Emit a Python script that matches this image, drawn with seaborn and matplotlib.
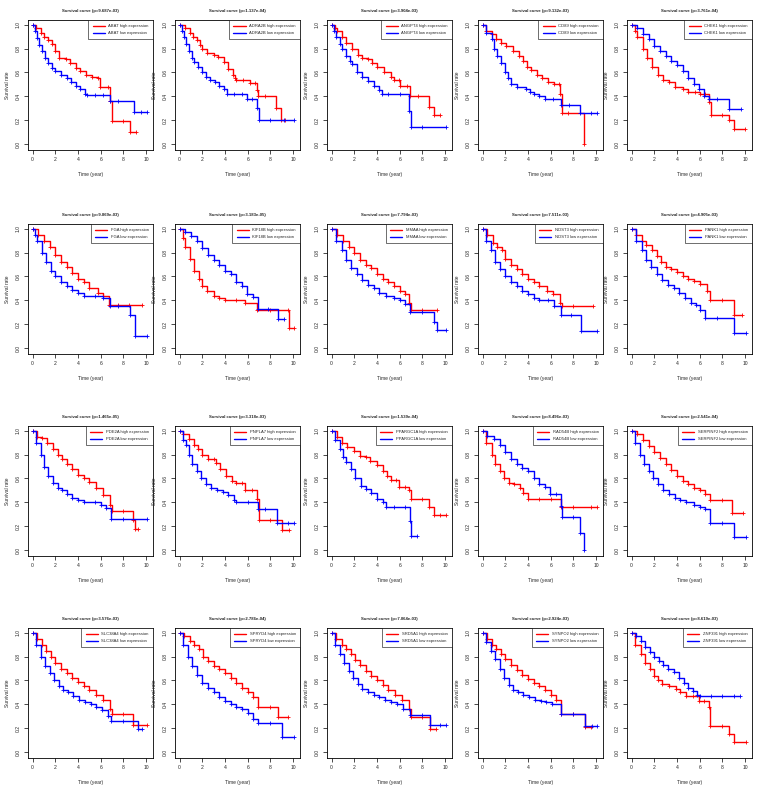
import matplotlib
matplotlib.use("Agg")
import matplotlib.pyplot as plt
from matplotlib.lines import Line2D
import seaborn as sns

# ── Data ((time in years, survival rate)) ───────────────────────────────────
genes = ["ABAT", "ADRA2B", "ANGPT4", "CD89", "CHEK1",
         "FGA", "KIF18B", "MMAA", "NDST3", "PANK1",
         "PDE2A", "PNPLA7", "PPARGC1A", "RAD54B", "SERPINF2",
         "SLC38A4", "SPRYD4", "SRD5A1", "SYNPO2", "ZNF391"]
pvalues = ["9.687e-03", "1.137e-04", "3.904e-03", "9.132e-03", "3.761e-04",
           "9.869e-03", "3.183e-05", "7.794e-03", "7.511e-03", "4.905e-03",
           "1.465e-05", "3.318e-03", "1.539e-04", "8.496e-03", "2.541e-04",
           "3.576e-03", "2.786e-04", "7.064e-03", "2.924e-03", "8.619e-03"]

abat_high = [(0, 1.0), (0.3, 0.97), (0.7, 0.93), (1.0, 0.90), (1.4, 0.87), (1.7, 0.84), (2.0, 0.78), (2.3, 0.72),
             (2.9, 0.71), (3.3, 0.68), (3.8, 0.64), (4.2, 0.61), (4.7, 0.58), (5.2, 0.56), (5.8, 0.55), (5.95, 0.48),
             (6.6, 0.48), (6.85, 0.36), (6.95, 0.19), (8.0, 0.19), (8.6, 0.10), (9.1, 0.10)]
abat_low = [(0, 1.0), (0.2, 0.95), (0.4, 0.89), (0.6, 0.83), (0.8, 0.78), (1.1, 0.72), (1.4, 0.68), (1.7, 0.64),
            (2.0, 0.61), (2.5, 0.58), (3.0, 0.55), (3.4, 0.52), (3.8, 0.49), (4.2, 0.46), (4.6, 0.42), (4.8, 0.41),
            (5.5, 0.41), (6.2, 0.41), (6.85, 0.36), (7.5, 0.36), (8.9, 0.27), (9.5, 0.27), (10.1, 0.27)]

adra2b_high = [(0, 1.0), (0.5, 0.97), (0.9, 0.93), (1.2, 0.90), (1.5, 0.87), (1.8, 0.83), (2.0, 0.80), (2.4, 0.76),
               (3.0, 0.75), (3.4, 0.73), (3.9, 0.69), (4.3, 0.63), (4.7, 0.58), (4.9, 0.55), (5.0, 0.535), (5.6, 0.535),
               (6.2, 0.51), (6.6, 0.51), (6.8, 0.45), (6.9, 0.40), (7.5, 0.40), (8.5, 0.30), (8.9, 0.20), (9.3, 0.20)]
adra2b_low = [(0, 1.0), (0.2, 0.95), (0.4, 0.90), (0.6, 0.84), (0.8, 0.78), (1.1, 0.72), (1.3, 0.69), (1.6, 0.65),
              (2.0, 0.60), (2.3, 0.56), (2.7, 0.54), (3.1, 0.52), (3.5, 0.49), (3.9, 0.46), (4.2, 0.42), (4.8, 0.42),
              (5.5, 0.42), (5.9, 0.38), (6.4, 0.38), (6.8, 0.30), (6.95, 0.20), (8.0, 0.20), (9.2, 0.20), (10.1, 0.20)]

angpt4_high = [(0, 1.0), (0.3, 0.97), (0.5, 0.95), (0.9, 0.90), (1.3, 0.85), (1.8, 0.80), (2.3, 0.75), (2.7, 0.72),
               (3.2, 0.71), (3.6, 0.68), (4.0, 0.65), (4.6, 0.60), (5.2, 0.56), (5.5, 0.54), (5.9, 0.54), (6.0, 0.49),
               (6.6, 0.49), (6.9, 0.40), (7.6, 0.40), (8.6, 0.31), (9.0, 0.24), (9.5, 0.24)]
angpt4_low = [(0, 1.0), (0.2, 0.95), (0.4, 0.90), (0.7, 0.84), (0.9, 0.80), (1.3, 0.74), (1.6, 0.70), (1.8, 0.67),
              (2.2, 0.60), (2.7, 0.56), (3.2, 0.53), (3.7, 0.49), (4.2, 0.45), (4.4, 0.42), (5.0, 0.42), (6.0, 0.42),
              (6.8, 0.28), (7.0, 0.14), (8.0, 0.14), (10.1, 0.14)]

cd89_high = [(0, 1.0), (0.3, 0.95), (0.8, 0.92), (1.2, 0.88), (1.6, 0.85), (2.1, 0.82), (2.7, 0.78), (3.2, 0.74),
             (3.6, 0.70), (3.9, 0.65), (4.3, 0.62), (4.8, 0.58), (5.2, 0.55), (5.8, 0.52), (6.3, 0.50), (6.7, 0.50),
             (6.8, 0.42), (6.95, 0.26), (7.5, 0.26), (8.95, 0.0)]
cd89_low = [(0, 1.0), (0.3, 0.93), (0.8, 0.88), (1.0, 0.80), (1.3, 0.74), (1.6, 0.68), (2.0, 0.60), (2.2, 0.55),
            (2.5, 0.50), (3.0, 0.48), (3.8, 0.46), (4.2, 0.44), (4.5, 0.42), (5.0, 0.40), (5.5, 0.38), (6.2, 0.38),
            (6.9, 0.33), (7.6, 0.33), (8.6, 0.26), (9.5, 0.26), (10.1, 0.26)]

chek1_high = [(0, 1.0), (0.3, 0.95), (0.5, 0.90), (1.0, 0.80), (1.4, 0.72), (1.8, 0.65), (2.3, 0.58), (2.8, 0.54),
              (3.3, 0.52), (3.8, 0.48), (4.5, 0.46), (5.0, 0.44), (5.6, 0.44), (6.0, 0.42), (6.5, 0.42), (6.85, 0.35),
              (7.0, 0.24), (8.0, 0.24), (8.6, 0.20), (9.0, 0.13), (10.0, 0.13)]
chek1_low = [(0, 1.0), (0.5, 0.97), (1.0, 0.92), (1.5, 0.88), (2.0, 0.82), (2.5, 0.78), (3.0, 0.74), (3.5, 0.70),
             (4.0, 0.66), (4.5, 0.61), (5.0, 0.55), (5.5, 0.50), (5.9, 0.46), (6.4, 0.40), (6.8, 0.38), (7.5, 0.38),
             (8.6, 0.29), (9.6, 0.29)]

fga_high = [(0, 1.0), (0.5, 0.95), (1.0, 0.90), (1.5, 0.85), (2.0, 0.78), (2.5, 0.72), (3.0, 0.68), (3.5, 0.63),
            (4.0, 0.58), (4.5, 0.55), (5.0, 0.50), (5.8, 0.46), (6.2, 0.44), (6.7, 0.36), (7.5, 0.36), (8.5, 0.36),
            (9.6, 0.36)]
fga_low = [(0, 1.0), (0.2, 0.95), (0.4, 0.90), (0.8, 0.80), (1.2, 0.72), (1.6, 0.65), (2.0, 0.60), (2.5, 0.55),
           (3.0, 0.52), (3.5, 0.49), (4.0, 0.46), (4.5, 0.44), (5.5, 0.44), (6.2, 0.42), (6.8, 0.35), (7.5, 0.35),
           (8.6, 0.28), (9.0, 0.10), (10.1, 0.10)]

kif18b_high = [(0, 1.0), (0.3, 0.92), (0.5, 0.85), (0.9, 0.75), (1.3, 0.65), (1.7, 0.58), (2.0, 0.52), (2.4, 0.48),
               (3.0, 0.44), (3.5, 0.42), (4.0, 0.40), (5.0, 0.40), (5.8, 0.38), (6.8, 0.32), (8.0, 0.32), (9.5, 0.32),
               (9.6, 0.17), (10.1, 0.17)]
kif18b_low = [(0, 1.0), (0.5, 0.97), (1.0, 0.94), (1.5, 0.90), (2.0, 0.84), (2.5, 0.78), (3.0, 0.74), (3.5, 0.70),
              (4.0, 0.65), (4.5, 0.62), (5.0, 0.55), (5.5, 0.52), (5.9, 0.45), (6.5, 0.43), (6.9, 0.33), (7.8, 0.33),
              (8.7, 0.24), (9.2, 0.24)]

mmaa_high = [(0, 1.0), (0.5, 0.95), (1.0, 0.90), (1.5, 0.85), (2.0, 0.80), (2.5, 0.74), (3.0, 0.70), (3.5, 0.67),
             (4.0, 0.62), (4.5, 0.58), (5.0, 0.55), (5.5, 0.52), (6.0, 0.48), (6.5, 0.45), (6.8, 0.38), (7.0, 0.32),
             (8.0, 0.32), (9.3, 0.32)]
mmaa_low = [(0, 1.0), (0.4, 0.90), (0.9, 0.82), (1.3, 0.74), (1.7, 0.67), (2.2, 0.62), (2.7, 0.57), (3.2, 0.53),
            (3.7, 0.50), (4.2, 0.46), (4.8, 0.44), (5.5, 0.42), (6.0, 0.40), (6.5, 0.37), (6.9, 0.30), (8.0, 0.30),
            (9.0, 0.22), (9.3, 0.15), (10.1, 0.15)]

ndst3_high = [(0, 1.0), (0.4, 0.95), (0.9, 0.88), (1.3, 0.85), (1.7, 0.82), (2.0, 0.75), (2.5, 0.70), (3.0, 0.66),
              (3.5, 0.62), (4.0, 0.58), (4.5, 0.55), (5.0, 0.52), (5.7, 0.48), (6.2, 0.45), (6.8, 0.38), (7.0, 0.35),
              (8.0, 0.35), (9.7, 0.35)]
ndst3_low = [(0, 1.0), (0.3, 0.90), (0.7, 0.82), (1.1, 0.72), (1.5, 0.66), (2.0, 0.60), (2.5, 0.55), (3.0, 0.52),
             (3.5, 0.48), (4.0, 0.45), (4.5, 0.42), (5.0, 0.40), (5.8, 0.40), (6.3, 0.35), (6.9, 0.28), (7.8, 0.28),
             (8.7, 0.14), (10.1, 0.14)]

pank1_high = [(0, 1.0), (0.4, 0.95), (0.9, 0.90), (1.3, 0.86), (1.8, 0.82), (2.2, 0.77), (2.6, 0.72), (3.0, 0.68),
              (3.5, 0.66), (4.0, 0.64), (4.5, 0.60), (5.0, 0.58), (5.5, 0.56), (6.0, 0.54), (6.6, 0.48), (6.9, 0.40),
              (8.0, 0.40), (9.0, 0.28), (9.7, 0.28)]
pank1_low = [(0, 1.0), (0.4, 0.90), (0.9, 0.82), (1.3, 0.74), (1.7, 0.68), (2.2, 0.62), (2.7, 0.57), (3.2, 0.53),
             (3.7, 0.50), (4.2, 0.46), (4.7, 0.42), (5.2, 0.38), (5.7, 0.36), (6.0, 0.32), (6.5, 0.25), (7.5, 0.25),
             (9.0, 0.13), (10.1, 0.13)]

pde2a_high = [(0, 1.0), (0.4, 0.95), (0.8, 0.94), (1.3, 0.90), (1.8, 0.85), (2.2, 0.80), (2.6, 0.76), (3.0, 0.72),
              (3.5, 0.68), (4.0, 0.63), (4.5, 0.60), (5.0, 0.57), (5.6, 0.52), (6.2, 0.46), (6.8, 0.38), (7.0, 0.33),
              (8.0, 0.33), (8.8, 0.25), (9.0, 0.18), (9.3, 0.18)]
pde2a_low = [(0, 1.0), (0.3, 0.90), (0.7, 0.80), (1.0, 0.70), (1.4, 0.62), (1.8, 0.56), (2.2, 0.52), (2.6, 0.50),
             (3.0, 0.47), (3.5, 0.44), (4.0, 0.42), (4.5, 0.40), (5.5, 0.40), (6.0, 0.38), (6.5, 0.35), (6.9, 0.26),
             (8.0, 0.26), (10.1, 0.26)]

pnpla7_high = [(0, 1.0), (0.3, 0.97), (0.8, 0.93), (1.3, 0.88), (1.6, 0.85), (2.0, 0.80), (2.5, 0.76), (3.0, 0.76),
               (3.2, 0.73), (3.6, 0.68), (4.1, 0.62), (4.6, 0.58), (5.0, 0.56), (5.5, 0.56), (5.8, 0.50), (6.4, 0.50),
               (6.8, 0.43), (6.95, 0.25), (8.0, 0.25), (9.0, 0.17), (9.6, 0.17)]
pnpla7_low = [(0, 1.0), (0.3, 0.92), (0.6, 0.88), (0.8, 0.80), (1.1, 0.72), (1.5, 0.66), (1.9, 0.60), (2.3, 0.55),
              (2.8, 0.52), (3.3, 0.50), (3.8, 0.49), (4.3, 0.46), (4.8, 0.42), (5.0, 0.40), (6.0, 0.40), (6.9, 0.34),
              (7.5, 0.34), (8.6, 0.23), (9.5, 0.23), (10.1, 0.23)]

ppargc1a_high = [(0, 1.0), (0.5, 0.95), (0.9, 0.90), (1.4, 0.86), (2.0, 0.83), (2.5, 0.79), (3.0, 0.78), (3.4, 0.75),
                 (4.0, 0.71), (4.5, 0.66), (4.9, 0.62), (5.2, 0.59), (5.7, 0.59), (5.9, 0.53), (6.5, 0.53), (6.8, 0.50),
                 (7.0, 0.43), (8.0, 0.43), (8.6, 0.36), (9.0, 0.29), (9.5, 0.29), (10.1, 0.29)]
ppargc1a_low = [(0, 1.0), (0.3, 0.92), (0.7, 0.85), (1.0, 0.78), (1.3, 0.74), (1.7, 0.68), (2.1, 0.60), (2.6, 0.54),
                (3.0, 0.51), (3.5, 0.48), (4.0, 0.43), (4.5, 0.40), (4.8, 0.36), (5.5, 0.36), (6.5, 0.36), (6.9, 0.24),
                (7.0, 0.12), (7.5, 0.12)]

rad54b_high = [(0, 1.0), (0.3, 0.90), (0.8, 0.80), (1.1, 0.72), (1.5, 0.66), (1.9, 0.60), (2.3, 0.56), (2.8, 0.55),
               (3.3, 0.52), (3.6, 0.48), (4.0, 0.43), (5.0, 0.43), (6.0, 0.43), (6.9, 0.36), (8.0, 0.36), (9.5, 0.36),
               (10.1, 0.36)]
rad54b_low = [(0, 1.0), (0.4, 0.96), (1.0, 0.93), (1.5, 0.88), (2.0, 0.82), (2.5, 0.76), (3.0, 0.72), (3.5, 0.69),
              (4.0, 0.66), (4.5, 0.60), (5.0, 0.55), (5.5, 0.53), (5.9, 0.47), (6.5, 0.47), (6.9, 0.37), (7.0, 0.28),
              (8.0, 0.28), (8.6, 0.14), (8.95, 0.0)]

serpinf2_high = [(0, 1.0), (0.5, 0.97), (1.0, 0.92), (1.5, 0.87), (2.0, 0.82), (2.5, 0.77), (3.0, 0.72), (3.5, 0.67),
                 (4.0, 0.62), (4.5, 0.58), (5.0, 0.55), (5.5, 0.52), (6.0, 0.50), (6.5, 0.47), (6.9, 0.42), (8.0, 0.42),
                 (8.8, 0.31), (9.8, 0.31)]
serpinf2_low = [(0, 1.0), (0.3, 0.90), (0.7, 0.80), (1.1, 0.72), (1.5, 0.66), (1.9, 0.60), (2.3, 0.55), (2.8, 0.50),
                (3.3, 0.47), (3.8, 0.44), (4.3, 0.42), (4.8, 0.40), (5.5, 0.38), (6.0, 0.36), (6.5, 0.34), (6.9, 0.23),
                (8.0, 0.23), (9.0, 0.11), (10.1, 0.11)]

slc38a4_high = [(0, 1.0), (0.4, 0.95), (0.8, 0.90), (1.2, 0.85), (1.6, 0.80), (2.0, 0.75), (2.5, 0.70), (3.0, 0.66),
                (3.5, 0.62), (4.0, 0.59), (4.5, 0.55), (5.0, 0.52), (5.6, 0.48), (6.2, 0.44), (6.8, 0.36), (7.0, 0.32),
                (8.0, 0.32), (8.8, 0.23), (10.1, 0.23)]
slc38a4_low = [(0, 1.0), (0.3, 0.90), (0.7, 0.80), (1.1, 0.72), (1.5, 0.66), (1.9, 0.60), (2.3, 0.55), (2.7, 0.52),
               (3.1, 0.50), (3.6, 0.47), (4.1, 0.44), (4.6, 0.42), (5.1, 0.40), (5.6, 0.38), (6.1, 0.35), (6.6, 0.30),
               (6.9, 0.26), (8.0, 0.26), (9.3, 0.19), (9.6, 0.19)]

spryd4_high = [(0, 1.0), (0.4, 0.97), (0.9, 0.93), (1.3, 0.90), (1.7, 0.86), (2.1, 0.80), (2.5, 0.76), (3.0, 0.72),
               (3.5, 0.70), (4.0, 0.66), (4.5, 0.62), (5.0, 0.58), (5.5, 0.54), (6.0, 0.50), (6.5, 0.46), (6.9, 0.38),
               (8.0, 0.38), (8.7, 0.29), (9.5, 0.29)]
spryd4_low = [(0, 1.0), (0.3, 0.90), (0.7, 0.80), (1.1, 0.72), (1.5, 0.65), (2.0, 0.58), (2.5, 0.54), (3.0, 0.50),
              (3.5, 0.46), (4.0, 0.43), (4.5, 0.40), (5.0, 0.38), (5.5, 0.36), (6.0, 0.33), (6.5, 0.28), (6.9, 0.24),
              (8.0, 0.24), (9.0, 0.13), (10.1, 0.13)]

srd5a1_high = [(0, 1.0), (0.4, 0.95), (0.9, 0.90), (1.3, 0.86), (1.7, 0.82), (2.1, 0.77), (2.5, 0.73), (3.0, 0.68),
               (3.5, 0.64), (4.0, 0.60), (4.5, 0.56), (5.0, 0.52), (5.6, 0.48), (6.2, 0.44), (6.8, 0.36), (7.0, 0.29),
               (8.0, 0.29), (8.7, 0.19), (9.2, 0.19)]
srd5a1_low = [(0, 1.0), (0.3, 0.90), (0.7, 0.82), (1.1, 0.75), (1.5, 0.68), (1.9, 0.62), (2.3, 0.57), (2.7, 0.53),
              (3.2, 0.50), (3.7, 0.48), (4.2, 0.46), (4.7, 0.44), (5.2, 0.42), (5.8, 0.40), (6.3, 0.36), (6.9, 0.31),
              (8.0, 0.31), (8.7, 0.23), (9.5, 0.23), (10.1, 0.23)]

synpo2_high = [(0, 1.0), (0.4, 0.95), (0.8, 0.90), (1.2, 0.86), (1.6, 0.82), (2.0, 0.78), (2.5, 0.73), (3.0, 0.69),
               (3.5, 0.65), (4.0, 0.61), (4.5, 0.58), (5.0, 0.55), (5.5, 0.52), (6.0, 0.48), (6.5, 0.44), (6.9, 0.32),
               (8.0, 0.32), (9.0, 0.21), (9.5, 0.21)]
synpo2_low = [(0, 1.0), (0.3, 0.92), (0.7, 0.85), (1.1, 0.78), (1.5, 0.70), (1.9, 0.62), (2.3, 0.56), (2.7, 0.52),
              (3.1, 0.50), (3.6, 0.48), (4.1, 0.46), (4.6, 0.44), (5.1, 0.43), (5.6, 0.42), (6.1, 0.40), (6.9, 0.32),
              (8.0, 0.32), (9.0, 0.22), (9.6, 0.22), (10.1, 0.22)]

znf391_high = [(0, 1.0), (0.3, 0.90), (0.8, 0.82), (1.2, 0.75), (1.6, 0.70), (2.0, 0.64), (2.3, 0.60), (2.7, 0.57),
               (3.3, 0.55), (3.9, 0.53), (4.3, 0.50), (4.8, 0.47), (5.4, 0.47), (5.9, 0.43), (6.4, 0.43), (6.8, 0.38),
               (6.9, 0.22), (8.0, 0.22), (8.6, 0.15), (9.0, 0.08), (10.1, 0.08)]
znf391_low = [(0, 1.0), (0.4, 0.97), (0.8, 0.93), (1.2, 0.88), (1.6, 0.84), (2.0, 0.80), (2.4, 0.76), (2.8, 0.73),
              (3.2, 0.70), (3.7, 0.67), (4.2, 0.62), (4.6, 0.58), (5.0, 0.54), (5.4, 0.51), (5.8, 0.48), (6.0, 0.47),
              (7.0, 0.47), (8.0, 0.47), (9.0, 0.47), (9.5, 0.47)]

high_curves = [abat_high, adra2b_high, angpt4_high, cd89_high, chek1_high,
               fga_high, kif18b_high, mmaa_high, ndst3_high, pank1_high,
               pde2a_high, pnpla7_high, ppargc1a_high, rad54b_high, serpinf2_high,
               slc38a4_high, spryd4_high, srd5a1_high, synpo2_high, znf391_high]
low_curves = [abat_low, adra2b_low, angpt4_low, cd89_low, chek1_low,
              fga_low, kif18b_low, mmaa_low, ndst3_low, pank1_low,
              pde2a_low, pnpla7_low, ppargc1a_low, rad54b_low, serpinf2_low,
              slc38a4_low, spryd4_low, srd5a1_low, synpo2_low, znf391_low]

# ── Style ───────────────────────────────────────────────────────────────────
sns.set_theme(style="ticks")
plt.rcParams["font.family"] = ["Liberation Sans", "DejaVu Sans"]

W, H = 761, 792
col_left = [28, 175, 327, 478, 627]
row_top = [20, 224, 426, 628]
ax_w, ax_h = 125, 130

fig = plt.figure(figsize=(W / 100, H / 100), dpi=100)
fig.patch.set_facecolor("white")


def km_line(ax, pts, color):
    t = [p[0] for p in pts]
    s = [p[1] for p in pts]
    sns.lineplot(x=t, y=s, ax=ax, color=color, drawstyle="steps-post",
                 estimator=None, sort=False, linewidth=1.0,
                 marker="+", markersize=3, markeredgewidth=0.6,
                 markeredgecolor=color, legend=False)


for i, gene in enumerate(genes):
    r, c = divmod(i, 5)
    left, top = col_left[c], row_top[r]
    ax = fig.add_axes([left / W, 1 - (top + ax_h) / H, ax_w / W, ax_h / H])
    ax.set_facecolor("white")

    km_line(ax, high_curves[i], "red")
    km_line(ax, low_curves[i], "blue")

    ax.set_xlim(-0.4, 10.6)
    ax.set_ylim(-0.05, 1.04)
    ax.set_xticks([0, 2, 4, 6, 8, 10])
    ax.set_yticks([0.0, 0.2, 0.4, 0.6, 0.8, 1.0])
    ax.set_yticklabels(["0.0", "0.2", "0.4", "0.6", "0.8", "1.0"],
                       rotation=90, va="center")
    ax.tick_params(labelsize=3.6, length=2.6, width=0.5, pad=2.5, color="black")
    for sp in ax.spines.values():
        sp.set_linewidth(0.6)
        sp.set_color("black")

    ax.set_title(f"Survival curve (p={pvalues[i]})", fontsize=3.1,
                 fontweight="bold", pad=6)
    ax.set_xlabel("Time (year)", fontsize=3.5, labelpad=7)
    ax.set_ylabel("Survival rate", fontsize=3.5, labelpad=4)

    handles = [Line2D([], [], color="red", linewidth=1.0),
               Line2D([], [], color="blue", linewidth=1.0)]
    leg = ax.legend(handles, [f"{gene} high expression", f"{gene} low expression"],
                    loc="upper right", fontsize=3.0, frameon=True, fancybox=False,
                    borderaxespad=0, borderpad=1.0, handlelength=2.9,
                    handletextpad=0.9, labelspacing=0.7)
    leg.get_frame().set_edgecolor("black")
    leg.get_frame().set_linewidth(0.5)

fig.savefig("out.png", dpi=100, facecolor="white")
